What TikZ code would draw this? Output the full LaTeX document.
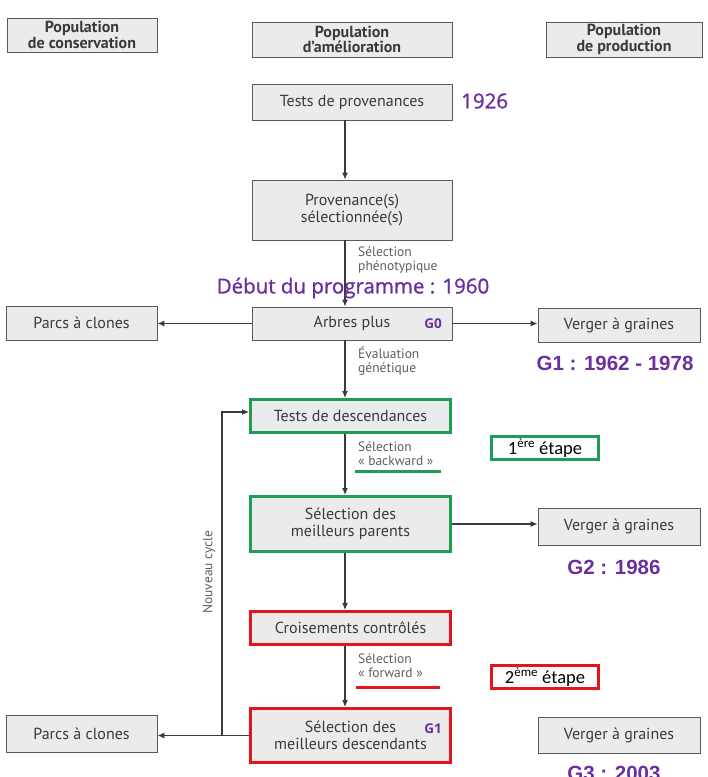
\documentclass[tikz,border=0pt]{standalone}
\usepackage{fontspec}
\setmainfont{PT Sans}
\newfontfamily\purplefont[FakeBold=1.2]{Open Sans}
\newfontfamily\purplebold{Open Sans}
\newfontfamily\arialfont{Liberation Sans}
\newfontfamily\calfont{Carlito}
\usetikzlibrary{arrows.meta}
\definecolor{boxfill}{HTML}{EBEBEB}
\definecolor{boxdraw}{HTML}{5A5A5A}
\definecolor{txt}{HTML}{3A3A3A}
\definecolor{lbl}{HTML}{5E5E5E}
\definecolor{myg}{HTML}{1E9E55}
\definecolor{myr}{HTML}{E2141E}
\definecolor{purp}{HTML}{6B2FA0}
\tikzset{
  box/.style={draw=boxdraw, fill=boxfill, line width=0.9pt, text=txt,
    font=\fontsize{16}{17}\selectfont, align=center, inner sep=0pt},
  hbox/.style={box, font=\bfseries\fontsize{16}{15.5}\selectfont},
  greenbox/.style={box, draw=myg, line width=3pt},
  redbox/.style={box, draw=myr, line width=3pt},
  stepgreen/.style={draw=myg, line width=3pt, fill=white, inner sep=0pt,
    font=\calfont\fontsize{18.5}{19}\selectfont, text=black},
  stepred/.style={stepgreen, draw=myr},
  conn/.style={draw=txt, line width=1.1pt, -{Latex[length=7pt,width=6pt]}},
  lab/.style={text=lbl, font=\fontsize{13.5}{14}\selectfont, align=left, anchor=north west, inner sep=0pt},
  purpbig/.style={text=purp, font=\purplefont\fontsize{20.5}{22}\selectfont},
  purpar/.style={text=purp, font=\arialfont\bfseries\fontsize{20.5}{22}\selectfont},
  purpsmall/.style={text=purp, font=\purplebold\bfseries\fontsize{13.5}{14}\selectfont},
}
\begin{document}
\begin{tikzpicture}[x=1pt,y=-1pt]
\useasboundingbox (0,0) rectangle (708,777);
% headers
\node[hbox, minimum width=150, minimum height=34] (hc) at (82,35) {Population\\de conservation};
\node[hbox, minimum width=200, minimum height=35] (ha) at (352,39.5) {Population\\d'amélioration};
\node[hbox, minimum width=156, minimum height=35] (hp) at (624,39.5) {Population\\de production};
% central column
\node[box, minimum width=200, minimum height=36] (tp) at (352,102) {Tests de provenances};
\node[box, minimum width=200, minimum height=60] (ps) at (352,210) {Provenance(s)\\sélectionnée(s)};
\node[box, minimum width=200, minimum height=33] (ap) at (352,323.5) {Arbres plus};
\node[greenbox, minimum width=200, minimum height=33] (td) at (350.5,416) {Tests de descendances};
\node[greenbox, minimum width=200, minimum height=55] (mp) at (350.5,524) {Sélection des\\meilleurs parents};
\node[redbox, minimum width=200, minimum height=33] (cc) at (350.5,628) {Croisements contrôlés};
\node[redbox, minimum width=200, minimum height=54] (md) at (350.5,735.5) {Sélection des\\meilleurs descendants};
% side boxes
\node[box, minimum width=151, minimum height=34] (pc1) at (81.5,323) {Parcs à clones};
\node[box, minimum width=162, minimum height=34] (vg1) at (619,325) {Verger à graines};
\node[box, minimum width=162, minimum height=37] (vg2) at (619,526.5) {Verger à graines};
\node[box, minimum width=151, minimum height=37] (pc2) at (81.5,733.5) {Parcs à clones};
\node[box, minimum width=162, minimum height=36] (vg3) at (619,735) {Verger à graines};
% steps
\node[stepgreen, minimum width=107, minimum height=23] (et1) at (545,448) {1\textsuperscript{ère} étape};
\node[stepred, minimum width=107, minimum height=23] (et2) at (545,677) {2\textsuperscript{ème} étape};
% trunk coordinates
\coordinate (trunk) at (345,0);
\coordinate (cyc) at (222,0);
% vertical connectors
\draw[conn] (tp.south -| trunk) -- (ps.north -| trunk);
\draw[conn] (ps.south -| trunk) -- (ap.north -| trunk);
\draw[conn] (ap.south -| trunk) -- (td.north -| trunk);
\draw[conn] (td.south -| trunk) -- (mp.north -| trunk);
\draw[conn] (mp.south -| trunk) -- (cc.north -| trunk);
\draw[conn] (cc.south -| trunk) -- (md.north -| trunk);
% horizontal connectors
\draw[conn] (ap.west) -- (pc1.east |- ap.west);
\draw[conn] (ap.east) -- (vg1.west |- ap.east);
\draw[conn] (mp.east) -- (vg2.west |- mp.east);
\draw[conn] (md.west) -- (pc2.east |- md.west);
\draw[conn] (md.west -| cyc) -- ([yshift=4]td.west -| cyc) -- ([yshift=4]td.west);
\node[rotate=90, text=lbl, font=\fontsize{13.5}{14}\selectfont] (nc) at (209,572) {Nouveau cycle};
% labels
\node[lab] (l1) at (358,247) {Sélection\\phénotypique};
\node[lab] (l2) at (358,347) {Évaluation\\génétique};
\node[lab] (l3) at (358,442) {Sélection\\« backward »};
\node[lab] (l4) at (358,654) {Sélection\\« forward »};
\coordinate (u1a) at (355,471); \coordinate (u1b) at (441,471);
\draw[myg, line width=3pt] (u1a) -- (u1b);
\coordinate (u2a) at (356,687); \coordinate (u2b) at (440,687);
\draw[myr, line width=3pt] (u2a) -- (u2b);
% purple annotations
\node[purpbig, anchor=west, inner sep=0pt] (y1926) at (461,101) {1926};
\node[purpbig, inner sep=0pt] (deb) at (353,288) {Début du programme : 1960};
\node[purpsmall, inner sep=0pt] (g0) at (433,324) {G0};
\node[purpsmall, inner sep=0pt] (g1b) at (433,729) {G1};
\node[purpar, inner sep=0pt] (g1) at (615,363) {G1 : 1962 - 1978};
\node[purpar, inner sep=0pt] (g2) at (614,567) {G2 : 1986};
\node[purpar, inner sep=0pt] (g3) at (614,773) {G3 : 2003};
\end{tikzpicture}
\end{document}
